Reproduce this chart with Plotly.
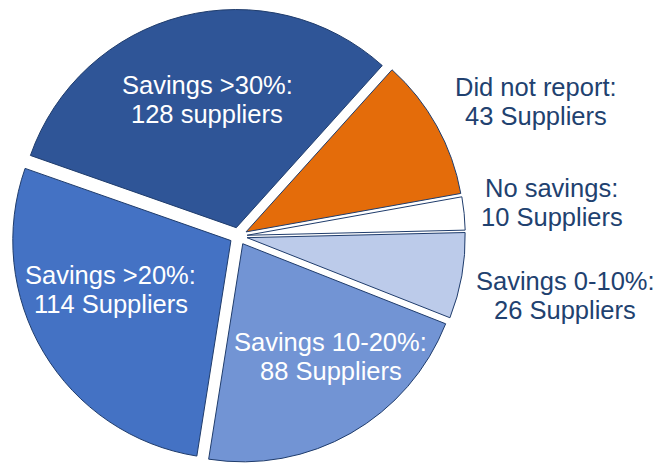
import plotly.graph_objects as go

# ---- data ----
categories = ["Did not report", "No savings", "Savings 0-10%", "Savings 10-20%", "Savings >20%", "Savings >30%"]
values = [43, 10, 26, 88, 114, 128]
units = ["Suppliers", "Suppliers", "Suppliers", "Suppliers", "Suppliers", "suppliers"]

# ---- style ----
colors = ["#E46C0A", "#FFFFFF", "#BCCBEA", "#7294D4", "#4472C4", "#2F5597"]
text_colors = ["#21416F", "#21416F", "#21416F", "white", "white", "white"]
# label centres in pixels (x, y) of the 655x463 canvas
label_pos = [(535.8, 101.5), (551.8, 202.3), (565.0, 295.5),
             (330.5, 356.3), (111.0, 289.8), (207.5, 99.8)]

W, H = 655, 463
FS = 25.5
HALF_GAP = 14.6

fig = go.Figure(go.Pie(
    labels=categories,
    values=values,
    sort=False,
    direction="clockwise",
    rotation=42,
    pull=[0.04] * len(values),
    marker=dict(colors=colors, line=dict(color="#1F3C6C", width=1)),
    textinfo="none",
    hoverinfo="label+value",
    showlegend=False,
    domain=dict(x=[0, 0.728], y=[0, 0.98]),
))

annotations = []
for cat, val, unit, col, (px, py) in zip(categories, values, units, text_colors, label_pos):
    for line, shift in ((f"{cat}:", HALF_GAP), (f"{val} {unit}", -HALF_GAP)):
        annotations.append(dict(
            text=line, x=px / W, y=1 - py / H, xref="paper", yref="paper",
            xanchor="center", yanchor="middle", yshift=shift, showarrow=False,
            font=dict(family="Liberation Sans, Arial, sans-serif", size=FS, color=col),
        ))

fig.update_layout(
    width=W, height=H,
    margin=dict(l=0, r=0, t=0, b=0),
    paper_bgcolor="white", plot_bgcolor="white",
    annotations=annotations,
)

fig.write_html("out.html")
